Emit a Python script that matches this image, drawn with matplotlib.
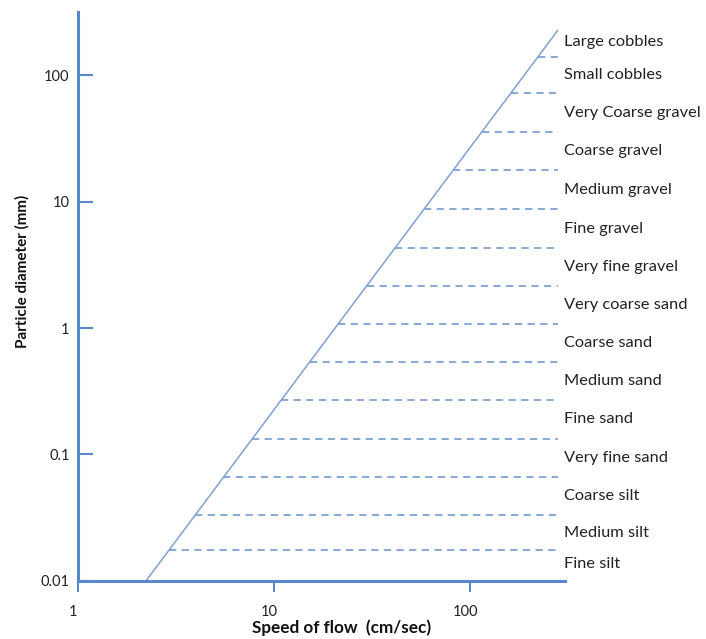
import numpy as np
import matplotlib.pyplot as plt
import matplotlib.transforms as mtransforms

plt.rcParams['font.family'] = ['Lato', 'DejaVu Sans']

# grain size classes, bottom to top
classes = ['Fine silt', 'Medium silt', 'Coarse silt', 'Very fine sand', 'Fine sand',
           'Medium sand', 'Coarse sand', 'Very coarse sand', 'Very fine gravel',
           'Fine gravel', 'Medium gravel', 'Coarse gravel', 'Very Coarse gravel',
           'Small cobbles', 'Large cobbles']
# class boundaries (mm) as drawn
bounds = [0.0176, 0.033, 0.066, 0.133, 0.27, 0.54, 1.07, 2.15, 4.3, 8.7, 17.8, 35.4, 72, 138]

# the diagonal (speed cm/s vs diameter mm)
line_speed = [2.22, 281]
line_diam = [0.01, 227]

xticks = [1, 10, 100]
yticks = [0.01, 0.1, 1, 10, 100]

blue = '#5a88c8'
light = '#7ea2d6'

fig = plt.figure(figsize=(7.06, 6.39), dpi=100)
ax = fig.add_axes([0.1105, 0.0908, 0.6898, 0.8904])
ax.set_xscale('log')
ax.set_yscale('log')
ax.set_xlim(1, 305)
ax.set_ylim(0.01, 315)

ax.plot(line_speed, line_diam, color=light, lw=1.1, solid_capstyle='butt')

# dashed boundaries from the diagonal to the right end
ls = np.log10(line_speed)
ld = np.log10(line_diam)
for b in bounds:
    x0 = 10 ** np.interp(np.log10(b), ld, ls)
    ax.plot([x0, line_speed[1]], [b, b], color=light, lw=1.3, dashes=(4, 3))

# class names between boundaries
edges = [bounds[0] / 1.65] + bounds + [bounds[-1] * 1.75]
trans = mtransforms.blended_transform_factory(ax.transAxes, ax.transData)
for i, name in enumerate(classes):
    ymid = np.sqrt(edges[i] * edges[i + 1])
    ax.text(0.997, ymid, name, transform=trans, ha='left', va='center',
            fontsize=11.8, color='#222222', clip_on=False)

for s in ['top', 'right']:
    ax.spines[s].set_visible(False)
for s in ['left', 'bottom']:
    ax.spines[s].set_color(blue)
    ax.spines[s].set_linewidth(2.2)

ax.minorticks_off()
ax.set_xticks(xticks)
ax.set_xticklabels(['1', '10', '100'])
ax.set_yticks(yticks)
ax.set_yticklabels(['0.01', '0.1', '1', '10', '100'])
ax.tick_params(axis='x', direction='out', length=8, width=1.5, color=blue,
               labelsize=10.5, pad=9, labelcolor='#222222')
ax.tick_params(axis='y', direction='in', length=11, width=1.5, color=blue,
               labelsize=10.5, pad=6, labelcolor='#222222')
off = mtransforms.ScaledTranslation(-5 / 100, 0, fig.dpi_scale_trans)
for lab in ax.get_xticklabels():
    lab.set_transform(lab.get_transform() + off)

fig.text(342 / 706, 1 - 628 / 639, 'Speed of flow  (cm/sec)', ha='center', va='center',
         fontsize=12.3, fontweight='bold', color='#111111')
fig.text(22 / 706, 1 - 271 / 639, 'Particle diameter (mm)', ha='center', va='center',
         rotation=90, fontsize=11, fontweight='bold', color='#111111')

fig.savefig('out.png', dpi=100)
